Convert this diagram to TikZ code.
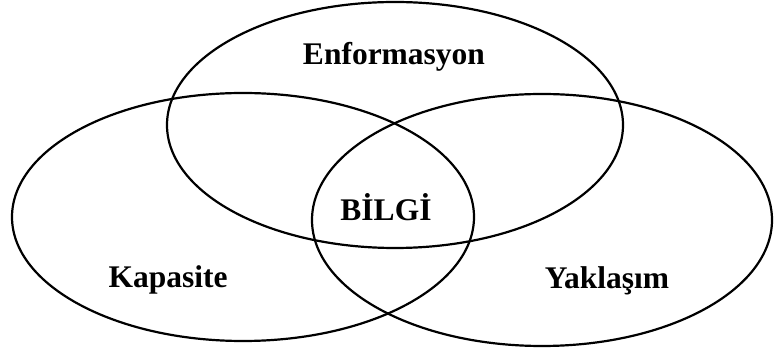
\documentclass[tikz,border=0pt]{standalone}
\usepackage{fontspec}
\setmainfont{Liberation Serif}
\usetikzlibrary{shapes.geometric}
\begin{document}
\begin{tikzpicture}[x=1pt,y=-1pt,
  set/.style={ellipse, draw=black, line width=2.2pt, inner sep=0pt},
  setlabel/.style={font=\fontsize{31.5}{36}\selectfont\bfseries, inner sep=0pt}]
  \useasboundingbox (0,0) rectangle (774,352);
  % the three overlapping sets
  \node[set, minimum width=456pt, minimum height=246pt] (info) at (395,125) {};
  \node[set, minimum width=462pt, minimum height=248pt] (cap)  at (243,217) {};
  \node[set, minimum width=460pt, minimum height=252pt] (appr) at (542,220) {};
  % labels
  \node[setlabel] (tinfo) at (394,57)  {Enformasyon};
  \node[setlabel] (tcap)  at (168,280) {Kapasite};
  \node[setlabel] (tappr) at (607,281) {Yaklaşım};
  \node[setlabel] (tknow) at (386,207) {BİLGİ};
\end{tikzpicture}
\end{document}
